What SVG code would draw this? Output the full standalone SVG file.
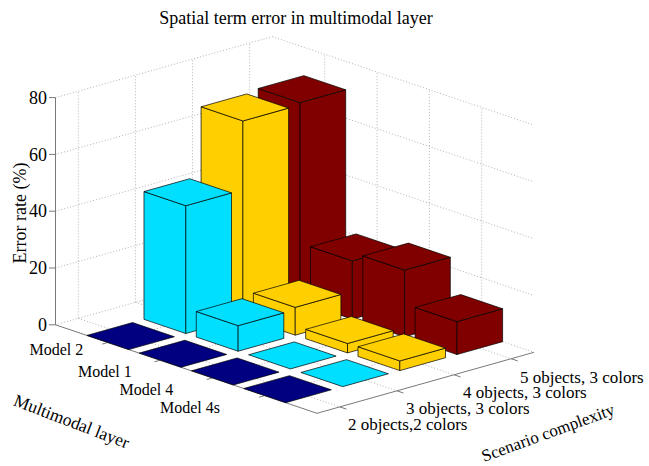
<svg xmlns="http://www.w3.org/2000/svg" width="649" height="466" viewBox="0 0 649 466">
<style>
.grid{stroke:#b4b4b4;stroke-width:1;stroke-dasharray:1 2;fill:none}
.axis{stroke:#7a7a7a;stroke-width:1;fill:none}
.bar polygon{stroke:#000;stroke-width:0.7;stroke-linejoin:round}
.c1 polygon{fill:#000080}
.c2 polygon{fill:#00DFFF}
.c3 polygon{fill:#FFCF00}
.c4 polygon{fill:#800000}
text{font-family:"Liberation Serif","Times New Roman",serif;fill:#000}
.tk{font-size:18px}
.ml{font-size:16px}
.sl{font-size:17px}
</style>
<rect width="649" height="466" fill="#fff"/>
<g id="grid">
<path class="grid" d="M55.5,324.8L272.48,263.81M55.5,268L272.48,207.01M55.5,211.2L272.48,150.21M55.5,154.4L272.48,93.41M55.5,97.6L272.48,36.61"/>
<path class="grid" d="M78.34,318.38V91.18M135.44,302.33V75.13M192.54,286.28V59.08M249.64,270.23V43.03"/>
<path class="grid" d="M272.48,263.81L533.98,352.31M272.48,207.01L533.98,295.51M272.48,150.21L533.98,238.71M272.48,93.41L533.98,181.91M272.48,36.61L533.98,125.11"/>
<path class="grid" d="M324.78,281.51V54.31M377.08,299.21V72.01M429.38,316.91V89.71M481.68,334.61V107.41"/>
<path class="grid" d="M107.8,342.5L324.78,281.51M160.1,360.2L377.08,299.21M212.4,377.9L429.38,316.91M264.7,395.6L481.68,334.61"/>
<path class="grid" d="M78.34,318.38L339.84,406.88M135.44,302.33L396.94,390.83M192.54,286.28L454.04,374.78M249.64,270.23L511.14,358.73"/>
</g>
<g id="axes">
<path class="axis" d="M55.5,324.8V97.6M55.5,324.8L317,413.3L533.98,352.31"/>
<path class="axis" d="M49,324.8H55.5M49,268H55.5M49,211.2H55.5M49,154.4H55.5M49,97.6H55.5"/>
<path class="axis" d="M107.8,342.5L102.1,344.1M160.1,360.2L154.4,361.8M212.4,377.9L206.7,379.5M264.7,395.6L259,397.2"/>
<path class="axis" d="M339.84,406.88L346.4,409.1M396.94,390.83L403.5,393M454.04,374.78L460.6,377M511.14,358.73L517.7,360.9"/>
</g>
<g id="bars">
<g id="bar-m2-s5" class="bar c4">
<polygon points="258.18,287.27 300.02,301.43 300.02,102.63 258.18,88.47"/>
<polygon points="300.02,301.43 345.7,288.59 345.7,89.79 300.02,102.63"/>
<polygon points="258.18,88.47 300.02,102.63 345.7,89.79 303.86,75.63"/>
</g>
<g id="bar-m2-s4" class="bar c3">
<polygon points="201.08,303.32 242.92,317.48 242.92,120.95 201.08,106.79"/>
<polygon points="242.92,317.48 288.6,304.64 288.6,108.11 242.92,120.95"/>
<polygon points="201.08,106.79 242.92,120.95 288.6,108.11 246.76,93.95"/>
</g>
<g id="bar-m1-s5" class="bar c4">
<polygon points="310.48,304.97 352.32,319.13 352.32,260.91 310.48,246.75"/>
<polygon points="352.32,319.13 398,306.29 398,248.07 352.32,260.91"/>
<polygon points="310.48,246.75 352.32,260.91 398,248.07 356.16,233.91"/>
</g>
<g id="bar-m2-s3" class="bar c2">
<polygon points="143.98,319.37 185.82,333.53 185.82,205.73 143.98,191.57"/>
<polygon points="185.82,333.53 231.5,320.69 231.5,192.89 185.82,205.73"/>
<polygon points="143.98,191.57 185.82,205.73 231.5,192.89 189.66,178.73"/>
</g>
<g id="bar-m1-s4" class="bar c3">
<polygon points="253.38,321.02 295.22,335.18 295.22,307.35 253.38,293.19"/>
<polygon points="295.22,335.18 340.9,322.34 340.9,294.51 295.22,307.35"/>
<polygon points="253.38,293.19 295.22,307.35 340.9,294.51 299.06,280.35"/>
</g>
<g id="bar-m4-s5" class="bar c4">
<polygon points="362.78,322.67 404.62,336.83 404.62,270.09 362.78,255.93"/>
<polygon points="404.62,336.83 450.3,323.99 450.3,257.25 404.62,270.09"/>
<polygon points="362.78,255.93 404.62,270.09 450.3,257.25 408.46,243.09"/>
</g>
<g id="bar-m2-s2" class="bar c1">
<polygon points="86.88,335.42 128.72,349.58 174.4,336.74 132.56,322.58"/>
</g>
<g id="bar-m1-s3" class="bar c2">
<polygon points="196.28,337.07 238.12,351.23 238.12,325.67 196.28,311.51"/>
<polygon points="238.12,351.23 283.8,338.39 283.8,312.83 238.12,325.67"/>
<polygon points="196.28,311.51 238.12,325.67 283.8,312.83 241.96,298.67"/>
</g>
<g id="bar-m4-s4" class="bar c3">
<polygon points="305.68,338.72 347.52,352.88 347.52,343.51 305.68,329.35"/>
<polygon points="347.52,352.88 393.2,340.04 393.2,330.67 347.52,343.51"/>
<polygon points="305.68,329.35 347.52,343.51 393.2,330.67 351.36,316.51"/>
</g>
<g id="bar-m4s-s5" class="bar c4">
<polygon points="415.08,340.37 456.92,354.53 456.92,321.59 415.08,307.43"/>
<polygon points="456.92,354.53 502.6,341.69 502.6,308.75 456.92,321.59"/>
<polygon points="415.08,307.43 456.92,321.59 502.6,308.75 460.76,294.59"/>
</g>
<g id="bar-m1-s2" class="bar c1">
<polygon points="139.18,353.12 181.02,367.28 226.7,354.44 184.86,340.28"/>
</g>
<g id="bar-m4-s3" class="bar c2">
<polygon points="248.58,354.77 290.42,368.93 336.1,356.09 294.26,341.93"/>
</g>
<g id="bar-m4s-s4" class="bar c3">
<polygon points="357.98,356.42 399.82,370.58 399.82,360.92 357.98,346.76"/>
<polygon points="399.82,370.58 445.5,357.74 445.5,348.08 399.82,360.92"/>
<polygon points="357.98,346.76 399.82,360.92 445.5,348.08 403.66,333.92"/>
</g>
<g id="bar-m4-s2" class="bar c1">
<polygon points="191.48,370.82 233.32,384.98 279,372.14 237.16,357.98"/>
</g>
<g id="bar-m4s-s3" class="bar c2">
<polygon points="300.88,372.47 342.72,386.63 388.4,373.79 346.56,359.63"/>
</g>
<g id="bar-m4s-s2" class="bar c1">
<polygon points="243.78,388.52 285.62,402.68 331.3,389.84 289.46,375.68"/>
</g>
</g>
<g id="labels">
<text x="296" y="24" font-size="18" text-anchor="middle">Spatial term error in multimodal layer</text>
<text class="tk" x="47" y="331" text-anchor="end">0</text>
<text class="tk" x="47" y="274.2" text-anchor="end">20</text>
<text class="tk" x="47" y="217.4" text-anchor="end">40</text>
<text class="tk" x="47" y="160.6" text-anchor="end">60</text>
<text class="tk" x="47" y="103.8" text-anchor="end">80</text>
<text x="0" y="0" font-size="18" text-anchor="middle" transform="translate(26,213) rotate(-90)">Error rate (%)</text>
<text class="ml" x="83.3" y="355" text-anchor="end">Model 2</text>
<text class="ml" x="131.7" y="377" text-anchor="end">Model 1</text>
<text class="ml" x="173.3" y="395" text-anchor="end">Model 4</text>
<text class="ml" x="220" y="413.3" text-anchor="end">Model 4s</text>
<text x="0" y="0" font-size="17.5" transform="translate(12.5,405) rotate(21)">Multimodal layer</text>
<text class="sl" x="348" y="430">2 objects,2 colors</text>
<text class="sl" x="406" y="414">3 objects, 3 colors</text>
<text class="sl" x="463" y="398">4 objects, 3 colors</text>
<text class="sl" x="520" y="382.5">5 objects, 3 colors</text>
<text x="0" y="0" font-size="17" transform="translate(484,462) rotate(-20)">Scenario complexity</text>
</g>
</svg>
